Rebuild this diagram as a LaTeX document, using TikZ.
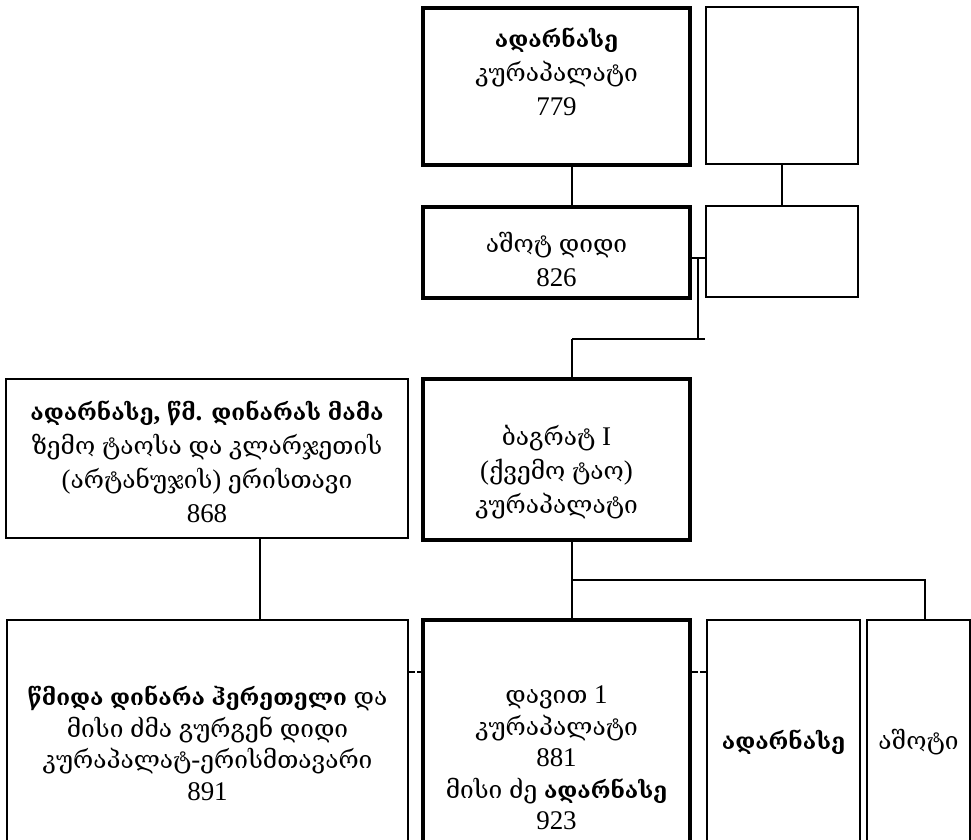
\documentclass[tikz,border=0pt]{standalone}
\usepackage{fontspec}
\setmainfont{Liberation Serif}[Scale=1.1]
\newfontfamily\geofont{DejaVu Serif}[BoldFeatures={Scale=0.92}]
\XeTeXinterchartokenstate=1
\newXeTeXintercharclass\GeoCls
\newcount\gcnt
\gcnt="10D0
\loop \XeTeXcharclass\gcnt=\GeoCls \advance\gcnt by 1 \ifnum\gcnt<"1100 \repeat
\XeTeXinterchartoks 0 \GeoCls = {\geofont}
\XeTeXinterchartoks 4095 \GeoCls = {\geofont}
\XeTeXinterchartoks \GeoCls 0 = {\rmfamily}
\XeTeXinterchartoks \GeoCls 4095 = {\rmfamily}
\tikzset{
  thinbox/.style={draw, line width=2pt, inner sep=0pt},
  thickbox/.style={draw, line width=4.5pt, inner sep=0pt},
  txt/.style={align=center, font=\fontsize{24.5}{34}\selectfont, inner sep=0pt},
  txtlow/.style={align=center, font=\fontsize{24.5}{31.5}\selectfont, inner sep=0pt},
  conn/.style={line width=2pt},
  dconn/.style={line width=2pt, dash pattern=on 6pt off 2pt},
}
\begin{document}
\begin{tikzpicture}[x=1pt,y=-1pt]
\useasboundingbox (0,0) rectangle (971,839);
\clip (0,0) rectangle (971,839);
\fill[white] (0,0) rectangle (971,839);
% boxes
\node[thickbox, minimum width=267pt, minimum height=157pt] (A) at (556.5,86.5) {};
\node[thinbox,  minimum width=152pt, minimum height=157pt] (B) at (782,85.5) {};
\node[thickbox, minimum width=267pt, minimum height=91pt]  (C) at (556.5,252.5) {};
\node[thinbox,  minimum width=152pt, minimum height=91pt]  (D) at (782,251.5) {};
\node[thinbox,  minimum width=402pt, minimum height=159pt] (F) at (207,458.5) {};
\node[thickbox, minimum width=267pt, minimum height=161pt] (E) at (556.5,459.5) {};
\node[thinbox,  minimum width=401pt, minimum height=250pt] (G) at (207.5,745) {};
\node[thickbox, minimum width=267pt, minimum height=250pt] (H) at (556.5,745) {};
\node[thinbox,  minimum width=153pt, minimum height=250pt] (I) at (783.5,745) {};
\node[thinbox,  minimum width=103pt, minimum height=250pt] (K) at (918.5,745) {};
% texts
\node[txt] (At) at (556.5,72) {\textbf{ადარნასე}\\კურაპალატი\\779};
\node[txt] (Ct) at (556.5,259) {აშოტ დიდი\\826};
\node[txt] (Ft) at (207,461.5) {\textbf{ადარნასე, წმ. დინარას მამა}\\ზემო ტაოსა და კლარჯეთის\\(არტანუჯის) ერისთავი\\868};
\node[txt] (Et) at (556.5,472) {ბაგრატ I\\(ქვემო ტაო)\\კურაპალატი};
\node[txtlow] (Gt) at (207.5,743) {\textbf{წმიდა დინარა ჰერეთელი} და\\მისი ძმა გურგენ დიდი\\კურაპალატ-ერისმთავარი\\891};
\node[txtlow] (Ht) at (556.5,758) {დავით 1\\კურაპალატი\\881\\მისი ძე \textbf{ადარნასე}\\923};
\node[txt] (It) at (783.5,742) {\textbf{ადარნასე}};
\node[txt] (Kt) at (918.5,742) {აშოტი};
% connectors
\coordinate (xA) at (572,0);
\draw[conn] (A.south -| xA) -- (C.north -| xA);
\draw[conn] (B.south) -- (D.north);
\coordinate (mC) at (698,258);
\coordinate (jE) at (572,339);
\draw[conn] (C.east |- mC) -- (D.west |- mC);
\draw[conn] (mC) -- (mC |- jE);
\draw[conn] (jE) -- (D.west |- jE);
\draw[conn] (jE) -- (E.north -| jE);
\coordinate (xF) at (260,0);
\draw[conn] (F.south -| xF) -- (G.north -| xF);
\coordinate (jH) at (572,580);
\coordinate (xK) at (925,580);
\draw[conn] (E.south -| jH) -- (H.north -| jH);
\draw[conn] (jH) -- (xK) -- (K.north -| xK);
\coordinate (dy) at (0,672);
\draw[dconn] (G.east |- dy) -- (H.west |- dy);
\draw[dconn] (H.east |- dy) -- (I.west |- dy);
\end{tikzpicture}
\end{document}
